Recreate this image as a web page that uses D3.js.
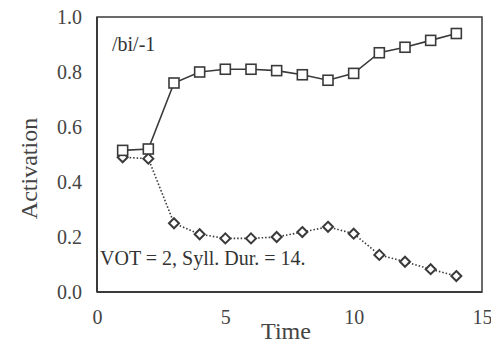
<!DOCTYPE html>
<html>
<head>
<meta charset="utf-8">
<script src="https://cdn.jsdelivr.net/npm/d3@7"></script>
<style>
  body { margin: 0; background: #fff; }
</style>
</head>
<body>
<svg id="chart" width="491" height="345"></svg>
<script>
const time = [1, 2, 3, 4, 5, 6, 7, 8, 9, 10, 11, 12, 13, 14];
const biActivation = [0.515, 0.52, 0.76, 0.80, 0.81, 0.81, 0.805, 0.79, 0.77, 0.795, 0.87, 0.89, 0.915, 0.94];
const otherActivation = [0.49, 0.485, 0.25, 0.21, 0.195, 0.195, 0.20, 0.218, 0.237, 0.212, 0.135, 0.11, 0.083, 0.058];
const xTicks = [0, 5, 10, 15];
const yTicks = [0, 0.2, 0.4, 0.6, 0.8, 1.0];

const margin = {top: 17, right: 9, bottom: 53, left: 97};
const width = 491 - margin.left - margin.right;
const height = 345 - margin.top - margin.bottom;
const ink = "#3a3a3a";
const serif = "'Liberation Serif', 'Times New Roman', 'DejaVu Serif', serif";

const svg = d3.select("#chart");
const g = svg.append("g").attr("transform", `translate(${margin.left},${margin.top})`);

const x = d3.scaleLinear().domain([0, 15]).range([0, width]);
const y = d3.scaleLinear().domain([0, 1]).range([height, 0]);

// frame
g.append("rect")
  .attr("width", width).attr("height", height)
  .attr("fill", "none").attr("stroke", ink).attr("stroke-width", 1.5);
g.append("line").attr("x1", 0).attr("x2", 0).attr("y1", 0).attr("y2", height)
  .attr("stroke", ink).attr("stroke-width", 2);
g.append("line").attr("x1", 0).attr("x2", width).attr("y1", height).attr("y2", height)
  .attr("stroke", ink).attr("stroke-width", 2);

// axes, labels only
const yAxis = g.append("g")
  .call(d3.axisLeft(y).tickValues(yTicks).tickSize(0).tickPadding(15).tickFormat(d3.format(".1f")));
yAxis.select(".domain").remove();
yAxis.selectAll("text")
  .style("font-size", "20px").style("font-family", serif).attr("fill", "#444");

const xAxis = g.append("g")
  .attr("transform", `translate(0,${height})`)
  .call(d3.axisBottom(x).tickValues(xTicks).tickSize(0).tickPadding(18).tickFormat(d3.format("d")));
xAxis.select(".domain").remove();
xAxis.selectAll("text")
  .style("font-size", "20px").style("font-family", serif).attr("fill", "#444");

// axis titles
svg.append("text")
  .attr("transform", `translate(37,${margin.top + height / 2 + 14}) rotate(-90)`)
  .attr("text-anchor", "middle")
  .style("font-size", "24px").style("font-family", serif)
  .attr("fill", "#444")
  .text("Activation");

svg.append("text")
  .attr("x", 286).attr("y", 339)
  .attr("text-anchor", "middle")
  .style("font-size", "24px").style("font-family", serif)
  .attr("fill", "#444")
  .text("Time");

// annotations
g.append("text").attr("x", 15).attr("y", 34)
  .style("font-size", "20px").style("font-family", serif).attr("fill", "#333")
  .text("/bi/-1");
g.append("text").attr("x", 3).attr("y", 248)
  .style("font-size", "20px").style("font-family", serif).attr("fill", "#333")
  .text("VOT = 2, Syll. Dur. = 14.");

const dotted = time.map((t, i) => ({t, v: otherActivation[i]}));
const solid = time.map((t, i) => ({t, v: biActivation[i]}));
const line = d3.line().x(d => x(d.t)).y(d => y(d.v));

g.append("path").datum(dotted)
  .attr("fill", "none").attr("stroke", ink)
  .attr("stroke-width", 1.6).attr("stroke-dasharray", "1.5,2")
  .attr("d", line);

g.selectAll(".diamond").data(dotted).enter().append("path")
  .attr("class", "diamond")
  .attr("transform", d => `translate(${x(d.t)},${y(d.v)})`)
  .attr("d", "M0,-5L5,0L0,5L-5,0Z")
  .attr("fill", "#fff").attr("stroke", ink).attr("stroke-width", 2);

g.append("path").datum(solid)
  .attr("fill", "none").attr("stroke", ink).attr("stroke-width", 1.6)
  .attr("d", line);

g.selectAll(".square").data(solid).enter().append("rect")
  .attr("class", "square")
  .attr("x", d => x(d.t) - 5).attr("y", d => y(d.v) - 5)
  .attr("width", 10).attr("height", 10)
  .attr("fill", "#fff").attr("stroke", ink).attr("stroke-width", 1.6);
</script>
</body>
</html>
